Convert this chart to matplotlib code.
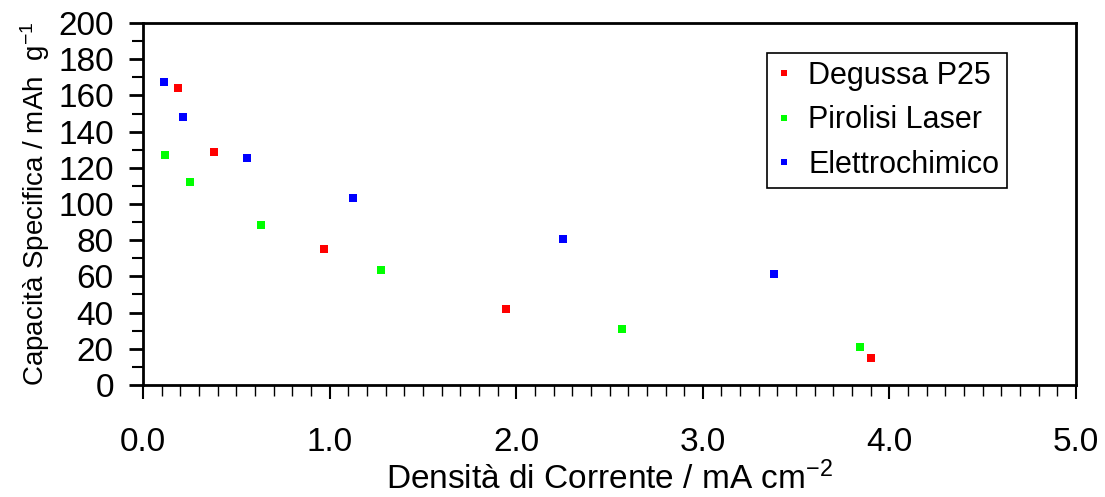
import numpy as np
import matplotlib.pyplot as plt
from matplotlib.ticker import MultipleLocator, FormatStrFormatter

plt.rcParams['font.family'] = ['Liberation Sans', 'DejaVu Sans']
plt.rcParams['mathtext.default'] = 'regular'

# Data
degussa_x = [0.19, 0.38, 0.97, 1.945, 3.90]
degussa_y = [164.2, 128.6, 75.0, 42.0, 14.7]
laser_x = [0.12, 0.25, 0.63, 1.275, 2.567, 3.844]
laser_y = [127.2, 112.0, 88.2, 63.5, 30.9, 20.8]
elettro_x = [0.11, 0.215, 0.555, 1.125, 2.25, 3.38]
elettro_y = [167.6, 147.9, 125.4, 103.5, 80.7, 61.3]

fig = plt.figure(figsize=(11.05, 4.97), dpi=100)
ax = fig.add_axes([0.1294, 0.2254, 0.9738 - 0.1294, 0.9537 - 0.2254])

ms = 5.2
ax.plot(degussa_x, degussa_y, 's', color='#ff0000', ms=ms, mew=0, label='Degussa P25')
ax.plot(laser_x, laser_y, 's', color='#00ff00', ms=ms, mew=0, label='Pirolisi Laser')
ax.plot(elettro_x, elettro_y, 's', color='#0000ff', ms=ms, mew=0, label='Elettrochimico')

ax.set_xlim(0, 5)
ax.set_ylim(0, 200)
ax.xaxis.set_major_locator(MultipleLocator(1.0))
ax.xaxis.set_minor_locator(MultipleLocator(0.1))
ax.xaxis.set_major_formatter(FormatStrFormatter('%.1f'))
ax.yaxis.set_major_locator(MultipleLocator(20))
ax.yaxis.set_minor_locator(MultipleLocator(10))

for s in ax.spines.values():
    s.set_linewidth(2)
ax.tick_params(axis='both', which='both', direction='out', top=False, right=False)
ax.tick_params(axis='x', which='major', length=10, width=1.5, pad=20, labelsize=24)
ax.tick_params(axis='x', which='minor', length=8, width=1)
ax.tick_params(axis='y', which='major', length=10, width=2, pad=11, labelsize=24)
ax.tick_params(axis='y', which='minor', length=8, width=1.5)

ax.set_xlabel('Densità di Corrente / mA cm$^{-2}$', fontsize=24)
ax.xaxis.set_label_coords(0.5, -0.287)
ax.xaxis.label.set_va('baseline')
ax.set_ylabel('Capacità Specifica / mAh  g$^{-1}$', fontsize=20)
ax.yaxis.set_label_coords(-0.1158, 0.5)
ax.yaxis.label.set_va('center')

leg = ax.legend(loc='upper right', bbox_to_anchor=(0.926, 0.917), fontsize=22,
                frameon=True, fancybox=False, edgecolor='black', framealpha=1,
                handlelength=0.6, handletextpad=0.5, markerscale=0.8,
                borderpad=0.25, labelspacing=0.48, borderaxespad=0)
leg.get_frame().set_linewidth(1.2)

fig.savefig('out.png', dpi=100)
